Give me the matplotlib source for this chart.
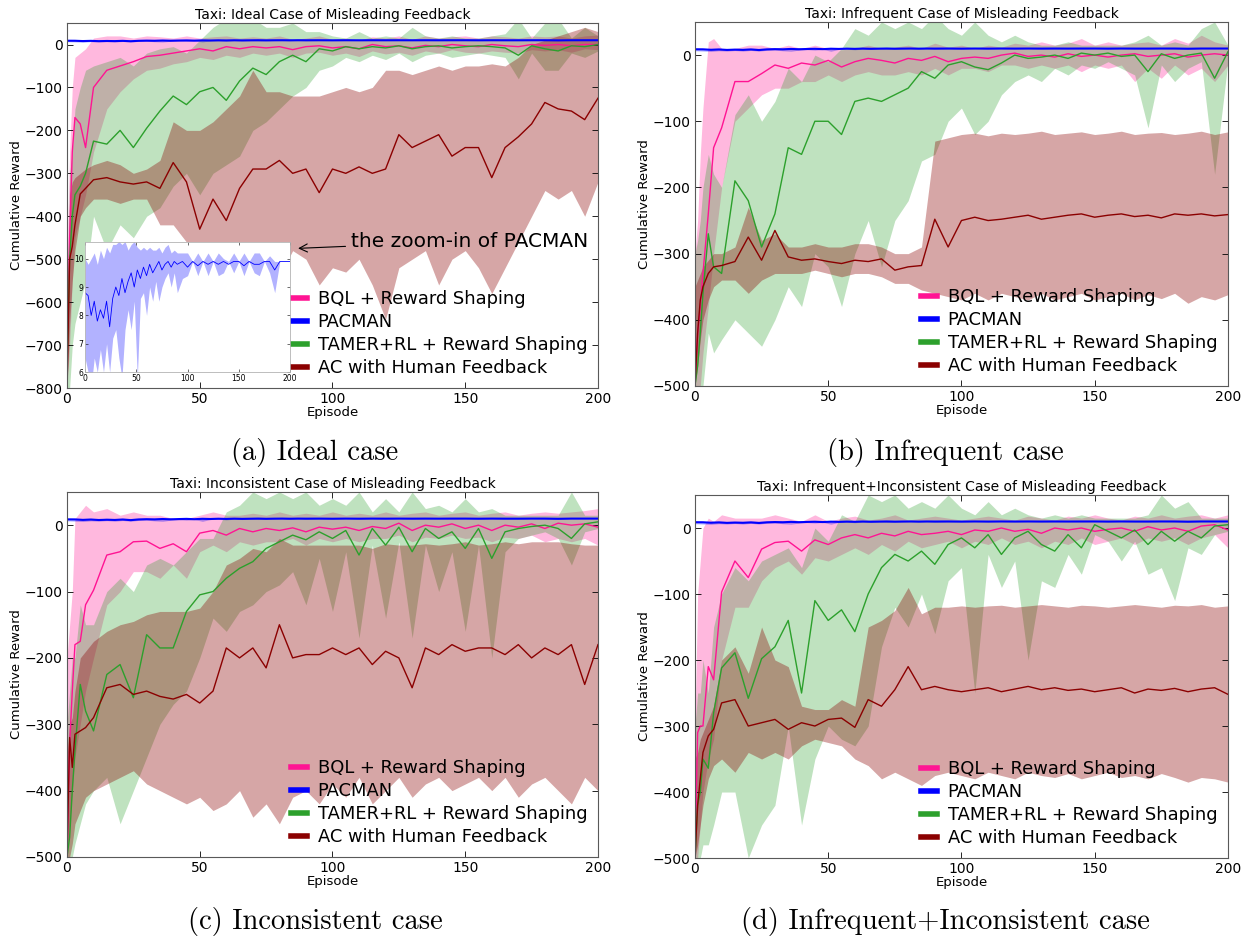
import matplotlib
matplotlib.use("Agg")
import matplotlib.pyplot as plt
from matplotlib.lines import Line2D

# episode grid used for the read-off values
EP = [0, 1, 2, 3, 5, 7,
      10, 15, 20, 25, 30, 35, 40, 45, 50, 55,
      60, 65, 70, 75, 80, 85, 90, 95, 100, 105,
      110, 115, 120, 125, 130, 135, 140, 145, 150, 155,
      160, 165, 170, 175, 180, 185, 190, 195, 200]

LABELS = ["BQL + Reward Shaping", "PACMAN", "TAMER+RL + Reward Shaping", "AC with Human Feedback"]
TITLES = ["Taxi: Ideal Case of Misleading Feedback",
          "Taxi: Infrequent Case of Misleading Feedback",
          "Taxi: Inconsistent Case of Misleading Feedback",
          "Taxi: Infrequent+Inconsistent Case of Misleading Feedback"]
CAPTIONS = ["(a) Ideal case", "(b) Infrequent case",
            "(c) Inconsistent case", "(d) Infrequent+Inconsistent case"]

# PACMAN (same in all panels, also shown in the inset)
PAC_EP = [0, 3, 6, 9, 12, 15, 18, 21, 24, 27,
          30, 33, 36, 39, 42, 45, 48, 51, 54, 57,
          60, 63, 66, 69, 72, 75, 78, 81, 84, 87,
          90,
          95, 100, 105, 110, 115, 120, 125, 130, 135, 140,
          145, 150, 155, 160, 165, 170, 175, 180, 185, 190,
          195, 200]
PAC = [8.8, 8.7, 8.0, 8.5, 7.8, 8.2, 7.9, 8.5, 7.6, 8.6,
       9.0, 8.7, 9.3, 8.8, 9.2, 9.5, 9.0, 9.6, 9.3, 9.7,
       9.4, 9.8, 9.5, 9.7, 9.9, 9.6, 9.8, 9.9, 9.7, 9.9,
       9.8,
       9.9, 9.7, 9.9, 9.75, 9.9, 9.8, 9.9, 9.8, 9.9, 9.8,
       9.9, 9.9, 9.75, 9.9, 9.8, 9.8, 9.9, 9.9, 9.6, 9.9,
       9.9, 9.9]
PAC_LO = [6.5, 6.0, 5.5, 6.5, 6.0, 6.8, 6.0, 7.0, 6.0, 7.2,
          7.5, 6.5, 5.8, 7.5, 8.2, 7.5, 8.5, 5.8, 8.6, 8.8,
          8.0, 9.0, 8.5, 9.2, 8.5, 9.0, 9.3, 9.5, 9.0, 9.5,
          8.8,
          9.3, 9.4, 9.9, 9.4, 9.9, 9.4, 9.9, 9.4, 9.5, 9.9,
          9.5, 9.9, 9.4, 9.9, 9.5, 9.4, 9.9, 9.5, 8.8, 9.9,
          9.9, 9.9]
PAC_HI = [10.0, 9.8, 10.0, 10.2, 9.8, 10.3, 10.0, 10.4, 10.2, 10.5,
          10.5, 10.6, 10.5, 10.6, 10.3, 10.5, 10.6, 10.4, 10.3, 10.4,
          10.3, 10.4, 10.3, 10.3, 10.4, 10.2, 10.4, 10.5, 10.2, 10.3,
          10.2,
          10.2, 10.2, 9.9, 10.2, 9.9, 10.2, 9.9, 10.2, 10.0, 9.9,
          10.2, 9.9, 10.2, 9.9, 10.2, 10.2, 9.9, 10.1, 9.9, 9.9,
          9.9, 9.9]

# ---- (a) ideal ----
A_BQL = [-700, -450, -250, -170, -185, -240,
         -100, -60, -50, -40, -28, -25, -20, -15, -10, -15,
         -5, -10, -5, -8, -5, -12, -5, -3, -8, -5,
         -10, 0, -5, -3, -8, -2, -5, 0, -3, -5,
         0, -3, -5, 0, -2, 0, -3, 0, 0]
A_BQL_LO = [-800, -700, -550, -450, -400, -350,
            -250, -150, -110, -80, -60, -55, -45, -40, -30, -35,
            -25, -30, -20, -25, -20, -30, -20, -18, -25, -20,
            -28, -15, -22, -18, -25, -15, -20, -12, -18, -20,
            -15, -18, -20, -12, -15, -12, -18, -10, -12]
A_BQL_HI = [-500, -250, -100, -30, -20, -10,
            15, 20, 20, 15, 20, 18, 15, 20, 15, 18,
            20, 15, 18, 15, 20, 12, 15, 20, 12, 15,
            10, 18, 15, 20, 12, 20, 15, 18, 20, 15,
            20, 18, 15, 20, 18, 20, 15, 20, 22]
A_TAM = [-750, -500, -400, -350, -330, -300,
         -225, -232, -200, -240, -195, -155, -120, -140, -110, -100,
         -130, -85, -55, -70, -40, -25, -40, -10, -15, -5,
         -10, -5, -8, -3, -10, -5, -3, -8, -5, -3,
         -5, -8, -25, -3, -10, -15, -3, -5, 0]
A_TAM_LO = [-800, -800, -700, -650, -600, -550,
            -400, -480, -420, -450, -400, -380, -330, -300, -350, -300,
            -280, -260, -200, -180, -150, -120, -100, -60, -50, -30,
            -40, -25, -35, -20, -40, -25, -20, -30, -25, -20,
            -25, -30, -80, -20, -60, -60, -20, -30, -15]
A_TAM_HI = [-650, -300, -250, -150, -100, -60,
            -50, -40, -30, -50, -20, -10, -5, -20, 10, 40,
            60, 50, 60, 40, 40, 50, 30, 30, 20, 15,
            30, 15, 20, 15, 40, 20, 15, 20, 15, 15,
            20, 25, 60, 15, 50, 60, 15, 40, 20]
A_AC = [-800, -500, -470, -420, -348, -335,
        -315, -310, -320, -325, -320, -335, -275, -320, -430, -360,
        -410, -335, -290, -290, -270, -300, -290, -345, -290, -300,
        -285, -300, -290, -210, -240, -225, -210, -260, -240, -240,
        -310, -240, -215, -185, -135, -150, -155, -175, -125]
A_AC_LO = [-800, -650, -550, -480, -400, -380,
           -360, -360, -370, -360, -360, -420, -420, -460, -520, -480,
           -560, -500, -520, -500, -540, -480, -500, -560, -520, -530,
           -500, -560, -640, -520, -500, -480, -560, -500, -480, -520,
           -580, -520, -460, -400, -340, -360, -340, -400, -320]
A_AC_HI = [-750, -350, -320, -310, -300, -290,
           -280, -270, -280, -300, -290, -270, -180, -200, -200, -180,
           -150, -120, -60, -110, -110, -120, -120, -120, -110, -100,
           -110, -100, -60, -60, -70, -60, -50, -60, -50, -50,
           -45, -50, -30, 0, 10, 20, 30, 40, 30]

# ---- (b) infrequent ----
B_BQL = [-500, -420, -380, -330, -240, -140,
         -110, -40, -40, -28, -15, -20, -12, -15, -8, -18,
         -10, -5, -8, -12, -5, -8, -2, -10, -5, -3,
         -5, 0, 3, -2, 0, -3, 2, -2, 0, -3,
         0, 2, -2, 0, 2, -3, 0, 2, 0]
B_BQL_LO = [-500, -500, -500, -450, -380, -300,
            -200, -100, -80, -60, -50, -50, -40, -40, -30, -40,
            -30, -25, -30, -30, -25, -30, -20, -30, -20, -20,
            -25, -15, -15, -20, -15, -20, -15, -25, -15, -20,
            -15, -40, -20, -35, -15, -30, -20, -40, -15]
B_BQL_HI = [-300, -250, -150, -80, 20, 25,
            10, 10, 15, 15, 10, 15, 10, 15, 10, 8,
            10, 15, 10, 12, 15, 10, 18, 12, 15, 10,
            15, 12, 18, 15, 20, 15, 18, 25, 15, 20,
            15, 18, 20, 15, 25, 18, 30, 20, 15]
B_TAM = [-500, -470, -420, -360, -270, -320,
         -330, -190, -220, -290, -240, -140, -150, -100, -100, -120,
         -70, -65, -70, -60, -50, -25, -35, -15, -10, -18,
         -22, -12, 0, -5, -3, 0, -5, 3, 0, 3,
         -2, 0, -25, 2, -5, 0, 3, -35, 5]
B_TAM_LO = [-500, -500, -500, -500, -420, -450,
            -430, -400, -420, -440, -400, -350, -380, -300, -320, -380,
            -300, -250, -320, -250, -220, -160, -150, -100, -80, -120,
            -100, -60, -40, -30, -40, -20, -30, -15, -20, -10,
            -20, -30, -110, -15, -40, -20, -10, -180, -10]
B_TAM_HI = [-300, -280, -250, -200, -150, -180,
            -200, -90, -60, -100, -70, -20, -40, 0, -10, 10,
            40, 30, 50, 40, 50, 40, 60, 40, 30, 50,
            30, 20, 30, 20, 15, 15, 20, 15, 15, 15,
            15, 20, 30, 15, 20, 15, 40, 50, 15]
B_AC = [-500, -420, -370, -350, -330, -320,
        -318, -312, -275, -310, -265, -305, -310, -308, -312, -315,
        -310, -312, -308, -325, -320, -318, -248, -290, -250, -245,
        -250, -248, -245, -242, -248, -245, -242, -240, -245, -242,
        -240, -244, -242, -246, -240, -242, -240, -243, -241]
B_AC_LO = [-500, -470, -430, -400, -370, -350,
           -340, -340, -360, -340, -330, -330, -330, -325, -330, -335,
           -330, -330, -335, -345, -345, -355, -360, -365, -370, -360,
           -370, -360, -365, -370, -360, -370, -365, -360, -370, -365,
           -360, -370, -362, -368, -360, -375, -365, -370, -362]
B_AC_HI = [-350, -340, -330, -320, -310, -300,
           -300, -290, -230, -280, -270, -290, -290, -285, -290, -290,
           -285, -285, -290, -300, -300, -290, -130, -125, -120, -118,
           -122, -118, -120, -118, -115, -120, -118, -116, -120, -118,
           -115, -120, -118, -117, -120, -118, -115, -120, -116]

# ---- (c) inconsistent ----
C_BQL = [-500, -330, -250, -180, -175, -120,
         -98, -45, -40, -25, -24, -35, -28, -40, -12, -8,
         -15, -5, -10, -5, -8, -4, -10, -3, -6, -3,
         -8, -2, -5, 3, -8, 0, -3, 2, -5, 0,
         -8, 0, -3, 2, -5, 3, 0, 2, -3]
C_BQL_LO = [-500, -450, -400, -350, -300, -250,
            -200, -120, -100, -70, -70, -80, -60, -80, -40, -30,
            -40, -25, -30, -25, -25, -20, -30, -20, -25, -20,
            -25, -20, -20, -15, -25, -18, -20, -15, -20, -18,
            -25, -18, -20, -15, -25, -20, -25, -20, -30]
C_BQL_HI = [-200, -150, -100, 10, 20, 30,
            20, 25, 15, 20, 15, 15, 10, 10, 15, 20,
            15, 15, 18, 15, 20, 15, 18, 15, 20, 15,
            18, 15, 20, 15, 18, 20, 15, 18, 20, 15,
            18, 20, 15, 18, 20, 18, 20, 22, 25]
C_TAM = [-500, -470, -400, -340, -240, -280,
         -310, -225, -210, -260, -165, -185, -185, -130, -105, -100,
         -80, -65, -55, -35, -25, -15, -22, -10, -20, -8,
         -45, -5, -30, -3, -40, -5, -20, -10, -35, -5,
         -50, -10, -5, -2, 0, -5, -20, 2, 5]
C_TAM_LO = [-500, -500, -500, -480, -450, -420,
            -400, -380, -450, -400, -350, -300, -270, -250, -200, -140,
            -160, -130, -120, -100, -90, -70, -120, -50, -130, -40,
            -170, -30, -140, -25, -170, -30, -100, -40, -160, -30,
            -200, -40, -20, -15, -10, -20, -60, -10, -5]
C_TAM_HI = [-300, -250, -200, -200, -120, -150,
            -150, -100, -80, -100, -60, -50, -60, -40, -20, -20,
            20, 30, 50, 40, 50, 40, 50, 30, 40, 30,
            50, 20, 40, 20, 50, 25, 30, 20, 40, 20,
            25, 15, 15, 15, 15, 15, 50, 15, 15]
C_AC = [-500, -320, -365, -315, -310, -305,
        -290, -245, -240, -255, -250, -258, -262, -255, -268, -250,
        -185, -200, -185, -215, -150, -200, -195, -195, -185, -195,
        -185, -210, -190, -200, -245, -185, -195, -180, -190, -185,
        -185, -195, -180, -200, -185, -195, -180, -240, -180]
C_AC_LO = [-500, -500, -480, -450, -430, -410,
           -400, -390, -380, -370, -390, -400, -410, -420, -410, -430,
           -420, -400, -440, -420, -450, -410, -400, -420, -390, -410,
           -380, -420, -400, -380, -410, -390, -380, -400, -390, -380,
           -400, -380, -410, -390, -380, -400, -420, -380, -400]
C_AC_HI = [-350, -300, -290, -250, -200, -190,
           -175, -160, -150, -145, -135, -130, -130, -130, -125, -100,
           -60, -50, -35, -40, -20, -30, -30, -30, -30, -30,
           -30, -35, -28, -30, -30, -28, -30, -28, -25, -30,
           -28, -25, -28, -25, -25, -25, -28, -30, -30]

# ---- (d) infrequent + inconsistent ----
D_BQL = [-500, -310, -300, -300, -210, -230,
         -97, -50, -75, -32, -22, -20, -35, -18, -25, -15,
         -10, -15, -8, -12, -5, -10, -8, -5, -10, -3,
         -5, 0, -5, -2, -8, 0, -3, 0, -5, -2,
         0, -5, 2, -3, 0, -5, 3, 5, -3]
D_BQL_LO = [-500, -500, -450, -400, -350, -320,
            -200, -120, -120, -80, -60, -50, -70, -45, -50, -40,
            -30, -40, -25, -35, -20, -30, -25, -20, -30, -20,
            -25, -15, -25, -20, -30, -20, -25, -15, -25, -20,
            -15, -25, -15, -20, -15, -25, -15, -10, -30]
D_BQL_HI = [-300, -100, -50, 0, 15, 10,
            20, 15, 15, 15, 20, 15, 10, 20, 10, 15,
            18, 12, 15, 20, 12, 15, 18, 15, 12, 15,
            18, 15, 12, 18, 15, 12, 18, 15, 20, 15,
            12, 18, 15, 20, 15, 18, 20, 15, 20]
D_TAM = [-500, -420, -400, -350, -364, -280,
         -212, -189, -258, -198, -180, -140, -250, -110, -140, -124,
         -157, -100, -60, -40, -50, -35, -55, -25, -15, -30,
         -10, -40, -15, -5, -25, -35, -10, -30, 5, -5,
         -15, -3, -25, -5, -20, -5, -15, 3, 5]
D_TAM_LO = [-500, -500, -500, -480, -480, -450,
            -400, -400, -500, -450, -420, -300, -450, -350, -300, -320,
            -330, -300, -180, -120, -150, -100, -160, -80, -60, -250,
            -40, -90, -50, -200, -80, -90, -40, -70, -10, -20,
            -50, -20, -70, -60, -110, -30, -40, -10, -5]
D_TAM_HI = [-300, -250, -250, -200, -250, -150,
            -100, -60, -80, -50, -40, -30, -60, 0, -20, 20,
            10, 50, 40, 50, 30, 40, 30, 50, 30, 20,
            40, 20, 30, 20, 15, 20, 15, 20, 15, 15,
            15, 15, 20, 50, 30, 40, 15, 15, 15]
D_AC = [-500, -420, -380, -340, -315, -305,
        -265, -260, -300, -295, -290, -305, -295, -300, -290, -288,
        -302, -260, -270, -245, -210, -245, -240, -245, -248, -245,
        -242, -248, -244, -240, -245, -242, -246, -244, -248, -245,
        -242, -250, -244, -246, -243, -248, -244, -242, -252]
D_AC_LO = [-500, -480, -450, -420, -380, -360,
           -350, -370, -340, -350, -340, -350, -330, -320, -325, -330,
           -350, -360, -380, -370, -380, -390, -375, -370, -375, -380,
           -370, -375, -380, -370, -375, -378, -372, -380, -375, -370,
           -378, -375, -380, -372, -378, -385, -378, -380, -385]
D_AC_HI = [-350, -340, -320, -310, -290, -270,
           -200, -180, -220, -150, -200, -210, -270, -275, -275, -260,
           -270, -150, -140, -125, -90, -130, -120, -120, -118, -120,
           -118, -117, -120, -118, -116, -118, -120, -117, -118, -120,
           -118, -116, -118, -120, -117, -118, -116, -120, -118]

COLORS = ["#ff1493", "#0000ff", "#2ca02c", "#8b0000"]
ALPHAS = [0.3, 0.3, 0.3, 0.35]

plt.rcParams["font.family"] = "DejaVu Sans"
plt.rcParams["xtick.direction"] = "in"
plt.rcParams["ytick.direction"] = "in"
plt.rcParams["xtick.top"] = True
plt.rcParams["ytick.right"] = True

fig = plt.figure(figsize=(12.45, 9.4), dpi=100)

# axes rectangles in figure fractions
positions = [
    [0.0538, 0.5872, 0.4265, 0.3883],
    [0.5582, 0.5894, 0.4281, 0.3872],
    [0.0538, 0.0883, 0.4265, 0.3883],
    [0.5582, 0.0872, 0.4281, 0.3862],
]
panels = [
    (A_BQL, A_BQL_LO, A_BQL_HI, A_TAM, A_TAM_LO, A_TAM_HI, A_AC, A_AC_LO, A_AC_HI),
    (B_BQL, B_BQL_LO, B_BQL_HI, B_TAM, B_TAM_LO, B_TAM_HI, B_AC, B_AC_LO, B_AC_HI),
    (C_BQL, C_BQL_LO, C_BQL_HI, C_TAM, C_TAM_LO, C_TAM_HI, C_AC, C_AC_LO, C_AC_HI),
    (D_BQL, D_BQL_LO, D_BQL_HI, D_TAM, D_TAM_LO, D_TAM_HI, D_AC, D_AC_LO, D_AC_HI),
]
ylows = [-800, -500, -500, -500]

axes = []
for i, pos in enumerate(positions):
    ax = fig.add_axes(pos)
    axes.append(ax)
    d = panels[i]
    series = [
        (EP, d[0], d[1], d[2]),
        (PAC_EP, PAC, PAC_LO, PAC_HI),
        (EP, d[3], d[4], d[5]),
        (EP, d[6], d[7], d[8]),
    ]
    for k, (x, m, lo, hi) in enumerate(series):
        ax.fill_between(x, lo, hi, color=COLORS[k], alpha=ALPHAS[k], lw=0)
        ax.plot(x, m, color=COLORS[k], lw=1.5 if k == 1 else 1.0)
    ax.set_xlim(0, 200)
    ax.set_ylim(ylows[i], 50)
    ax.set_xticks([0, 50, 100, 150, 200])
    ax.set_yticks(list(range(ylows[i], 1, 100)))
    ax.tick_params(labelsize=10, length=4, width=0.6, pad=3)
    for s in ax.spines.values():
        s.set_color("0.35")
        s.set_linewidth(0.8)
    ax.set_title(TITLES[i], fontsize=10, pad=3)
    ax.set_xlabel("Episode", fontsize=9.5, labelpad=0)
    ax.set_ylabel("Cumulative Reward", fontsize=9.5, labelpad=1)
    handles = [Line2D([], [], color=c, lw=4) for c in COLORS]
    ax.legend(handles, LABELS, loc="lower right", frameon=False, fontsize=12.9,
              handlelength=0.9, handletextpad=0.6, labelspacing=0.28,
              borderaxespad=0.2)

# captions
cap_xy = [(0.253, 0.519), (0.759, 0.519), (0.253, 0.020), (0.759, 0.020)]
for (cx, cy), cap in zip(cap_xy, CAPTIONS):
    fig.text(cx, cy, cap, ha="center", va="center", fontsize=20.5, family="cmr10")

# inset zoom of PACMAN in panel (a)
ins = fig.add_axes([0.0683, 0.604, 0.1647, 0.139])
ins.fill_between(PAC_EP, PAC_LO, PAC_HI, color="#0000ff", alpha=0.3, lw=0)
ins.plot(PAC_EP, PAC, color="#0000ff", lw=0.6)
ins.set_xlim(0, 200)
ins.set_ylim(6, 10.6)
ins.set_xticks([0, 50, 100, 150, 200])
ins.set_yticks([6, 7, 8, 9, 10])
ins.tick_params(labelsize=5.5, length=2, width=0.4, pad=1)
for s in ins.spines.values():
    s.set_color("0.7")
    s.set_linewidth(0.6)

axes[0].annotate("the zoom-in of PACMAN", xy=(86, -475), xytext=(107, -458),
                 fontsize=14.5, ha="left", va="center",
                 arrowprops=dict(arrowstyle="->", color="black", lw=0.8))

fig.savefig("out.png", dpi=100, facecolor="white")
